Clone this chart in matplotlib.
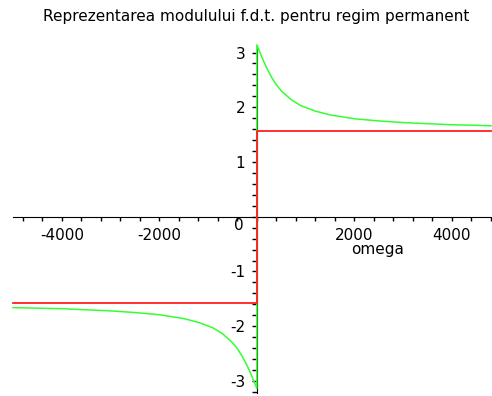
import numpy as np
import matplotlib
matplotlib.use("Agg")
import matplotlib.pyplot as plt
from matplotlib.ticker import MultipleLocator

plt.rcParams['font.family'] = ['DejaVu Sans']

# green curve, values (omega > 0 and omega < 0)
omega_pos = [0, 50, 100, 200, 300, 400, 500, 700, 900, 1200, 1500, 2000,
             2500, 3000, 3500, 4000, 4500, 4800]
green_pos = [3.14, 3.03, 2.92, 2.72, 2.55, 2.41, 2.30, 2.14, 2.03, 1.93, 1.86,
             1.79, 1.75, 1.72, 1.70, 1.68, 1.67, 1.66]
omega_neg = [-5000, -4500, -4000, -3500, -3000, -2500, -2000, -1500, -1200,
             -900, -700, -500, -400, -300, -200, -100, -50, 0]
green_neg = [-1.66, -1.67, -1.68, -1.70, -1.72, -1.75, -1.79, -1.86, -1.93,
             -2.03, -2.14, -2.30, -2.41, -2.55, -2.72, -2.92, -3.03, -3.14]

# red step
omega_red = [-5000, 0, 0, 4800]
red_vals = [-1.571, -1.571, 1.571, 1.571]

title = "Reprezentarea modulului f.d.t. pentru regim permanent"
xticks = [-4000, -2000, 2000, 4000]
yticks = [-3, -2, -1, 1, 2, 3]


def main():
    fig = plt.figure(figsize=(4.92, 3.96), dpi=100)
    ax = fig.add_axes([13 / 492, 1 - 393 / 396, 478 / 492, 346.5 / 396])

    # green curve, negative side joined to the positive side (jump at 0)
    ax.plot(omega_neg + omega_pos, green_neg + green_pos, color="#33ff33",
            lw=1.1, zorder=3, clip_on=False)
    ax.plot(omega_red, red_vals, color="#ff2020", lw=1.3, zorder=4, clip_on=False)

    ax.set_xlim(-5000, 4800)
    ax.set_ylim(-3.22, 3.11)

    for side in ("top", "right"):
        ax.spines[side].set_visible(False)
    ax.spines["left"].set_position(("data", 0))
    ax.spines["bottom"].set_position(("data", 0))
    ax.spines["left"].set_zorder(2)
    ax.spines["bottom"].set_zorder(2)

    ax.set_xticks(xticks)
    ax.set_xticklabels([str(t) for t in xticks])
    ax.xaxis.set_minor_locator(MultipleLocator(400))
    ax.set_yticks(yticks)
    ax.set_yticklabels([str(t) for t in yticks])
    ax.yaxis.set_minor_locator(MultipleLocator(0.2))

    ax.tick_params(axis="x", which="both", direction="out", length=3, width=1,
                   pad=5, labelsize=11)
    ax.tick_params(axis="y", which="both", direction="out", length=3.5, width=1,
                   pad=5, labelsize=11)

    ax.text(-280, -0.03, "0", ha="right", va="top", fontsize=11)
    ax.text(2470, -0.46, "omega", ha="center", va="top", fontsize=11)

    fig.text(256.5 / 492, 1 - 17 / 396, title, ha="center", va="center",
             fontsize=11)

    fig.savefig("out.png", dpi=100)


if __name__ == "__main__":
    main()
